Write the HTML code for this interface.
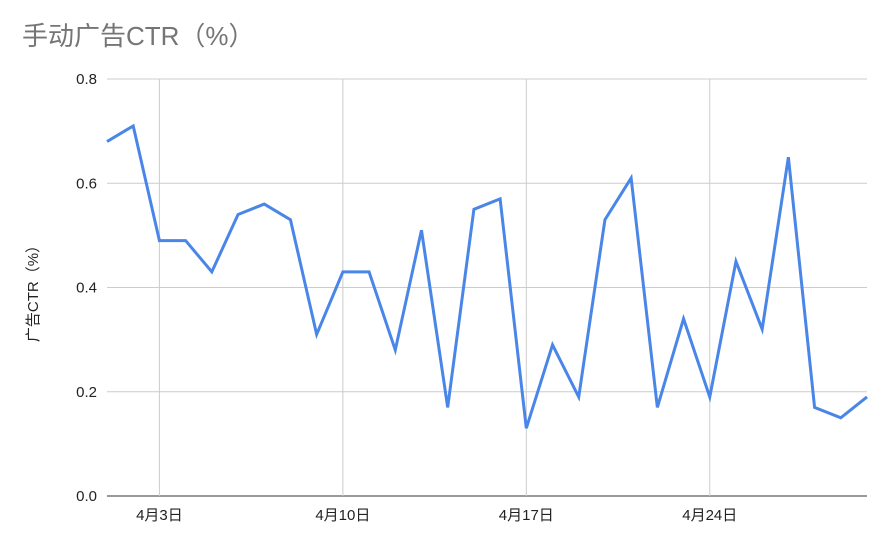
<!DOCTYPE html>
<html><head><meta charset="utf-8">
<style>
body{margin:0;background:#fff;}
svg{display:block;font-family:"Liberation Sans","Noto Sans CJK SC",sans-serif;}
</style></head>
<body>
<svg id="chart" width="892" height="550">
<text x="22" y="45" font-size="26" fill="#757575">手动广告CTR（%）</text>
<text transform="translate(38,290) rotate(-90)" text-anchor="middle" font-size="15" fill="#222">广告CTR（%）</text>
<g id="grid"></g><g id="axes"></g><g id="series"></g>
</svg>
<script>
const days=[1,2,3,4,5,6,7,8,9,10,11,12,13,14,15,16,17,18,19,20,21,22,23,24,25,26,27,28,29,30];
const ctr=[0.68,0.71,0.49,0.49,0.43,0.54,0.56,0.53,0.31,0.43,0.43,0.28,0.51,0.17,0.55,0.57,0.13,0.29,0.19,0.53,0.61,0.17,0.34,0.19,0.45,0.32,0.65,0.17,0.15,0.19];
const yTicks=[0,0.2,0.4,0.6,0.8];
const yTickLabels=["0.0","0.2","0.4","0.6","0.8"];
const xTickDays=[3,10,17,24];
const xTickLabels=["4月3日","4月10日","4月17日","4月24日"];
const L=107,R=867,T=79,B=496;
const x=d=>L+(d-1)*(R-L)/29;
const y=v=>B-(v/0.8)*(B-T);
const NS="http://www.w3.org/2000/svg";
const grid=document.getElementById('grid'),axes=document.getElementById('axes'),ser=document.getElementById('series');
function mk(tag,attrs,parent){const e=document.createElementNS(NS,tag);for(const k in attrs)e.setAttribute(k,attrs[k]);parent.appendChild(e);return e;}
yTicks.forEach((t,i)=>{
  const ln=mk('line',{x1:L,x2:R,y1:y(t),y2:y(t),stroke:i===0?'#333':'#ccc','stroke-width':1},grid);
  
  
  const tx=mk('text',{x:97,y:y(t)+5,'text-anchor':'end','font-size':15,fill:'#222'},axes);
  tx.textContent=yTickLabels[i];
  
  
});
xTickDays.forEach((d,i)=>{
  const ln=mk('line',{x1:x(d),x2:x(d),y1:T,y2:B,stroke:'#ccc','stroke-width':1},grid);
  
  
  const tx=mk('text',{x:x(d),y:520,'text-anchor':'middle','font-size':15,fill:'#222'},axes);
  tx.textContent=xTickLabels[i];
  
  
});
const pts=days.map((d,i)=>x(d)+','+y(ctr[i])).join(' ');
const pl=mk('polyline',{points:pts,fill:'none',stroke:'#4a86e8','stroke-width':3,'stroke-linejoin':'miter'},ser);


</script>
</body></html>
